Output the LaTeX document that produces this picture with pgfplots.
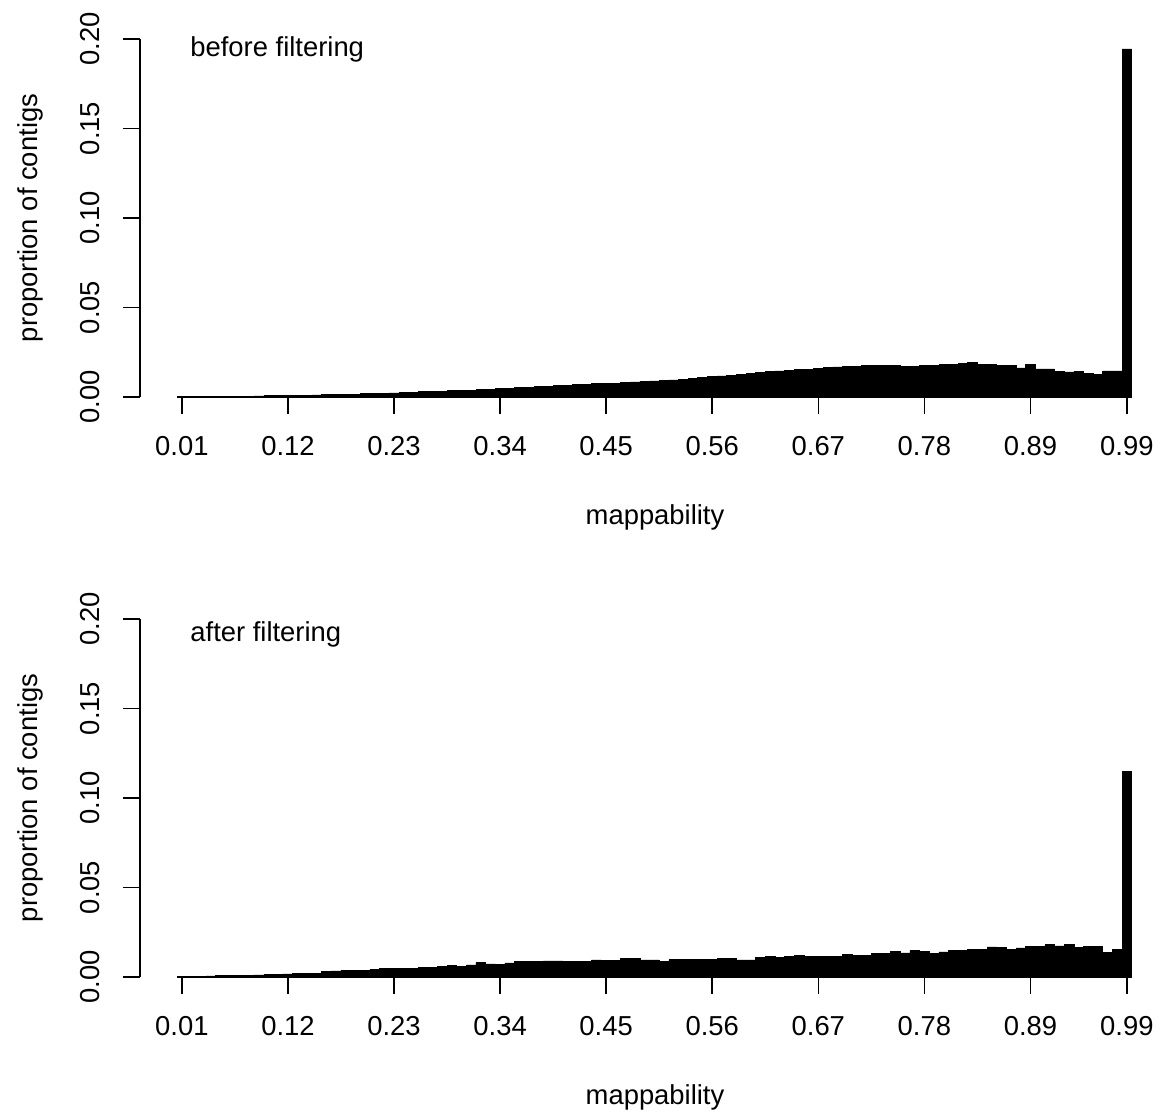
\documentclass[border=0pt]{standalone}
\usepackage{fontspec}
\setmainfont{Liberation Sans}
\usepackage{pgfplots}
\usepackage{pgfplotstable}
\pgfplotsset{compat=1.18}

\pgfplotstableread{
x y
1 0.0002
2 0.0002
3 0.0003
4 0.0003
5 0.0004
6 0.0004
7 0.0005
8 0.0005
9 0.0006
10 0.0007
11 0.0008
12 0.0009
13 0.0010
14 0.0011
15 0.0012
16 0.0013
17 0.0014
18 0.0015
19 0.0016
20 0.0018
21 0.0019
22 0.0021
23 0.0023
24 0.0025
25 0.0027
26 0.0029
27 0.0031
28 0.0033
29 0.0035
30 0.0037
31 0.0039
32 0.0041
33 0.0043
34 0.0046
35 0.0049
36 0.0052
37 0.0055
38 0.0058
39 0.0061
40 0.0064
41 0.0066
42 0.0069
43 0.0071
44 0.0074
45 0.0076
46 0.0078
47 0.0081
48 0.0084
49 0.0087
50 0.0090
51 0.0093
52 0.0096
53 0.0100
54 0.0105
55 0.0110
56 0.0114
57 0.0118
58 0.0122
59 0.0126
60 0.0130
61 0.0136
62 0.0141
63 0.0146
64 0.0150
65 0.0153
66 0.0156
67 0.0158
68 0.0165
69 0.0168
70 0.0170
71 0.0172
72 0.0176
73 0.0178
74 0.0178
75 0.0176
76 0.0170
77 0.0169
78 0.0176
79 0.0177
80 0.0180
81 0.0184
82 0.0186
83 0.0192
84 0.0182
85 0.0182
86 0.0178
87 0.0176
88 0.0162
89 0.0184
90 0.0157
91 0.0157
92 0.0144
93 0.0140
94 0.0142
95 0.0134
96 0.0128
97 0.0146
98 0.0146
99 0.1945
}\before

\pgfplotstableread{
x y
1 0.0003
2 0.0004
3 0.0005
4 0.0006
5 0.0007
6 0.0008
7 0.0009
8 0.0010
9 0.0012
10 0.0013
11 0.0015
12 0.0017
13 0.0019
14 0.0020
15 0.0022
16 0.0030
17 0.0034
18 0.0036
19 0.0037
20 0.0039
21 0.0043
22 0.0046
23 0.0047
24 0.0049
25 0.0050
26 0.0052
27 0.0054
28 0.0058
29 0.0067
30 0.0060
31 0.0068
32 0.0082
33 0.0073
34 0.0072
35 0.0079
36 0.0086
37 0.0087
38 0.0087
39 0.0090
40 0.0090
41 0.0087
42 0.0087
43 0.0089
44 0.0095
45 0.0094
46 0.0093
47 0.0102
48 0.0104
49 0.0096
50 0.0096
51 0.0088
52 0.0097
53 0.0097
54 0.0097
55 0.0099
56 0.0099
57 0.0103
58 0.0103
59 0.0096
60 0.0096
61 0.0110
62 0.0116
63 0.0109
64 0.0114
65 0.0120
66 0.0116
67 0.0116
68 0.0116
69 0.0116
70 0.0125
71 0.0122
72 0.0122
73 0.0133
74 0.0133
75 0.0142
76 0.0135
77 0.0148
78 0.0142
79 0.0131
80 0.0140
81 0.0150
82 0.0150
83 0.0153
84 0.0153
85 0.0168
86 0.0165
87 0.0155
88 0.0163
89 0.0172
90 0.0170
91 0.0180
92 0.0174
93 0.0182
94 0.0167
95 0.0172
96 0.0172
97 0.0139
98 0.0155
99 0.1150
}\after

\pgfplotsset{
  rpanel/.style={
    scale only axis,
    width=515pt, height=179pt,
    anchor=south west,
    xmin=-3.34, xmax=103.47,
    ymin=0, ymax=0.2,
    axis lines*=left,
    separate axis lines,
    x axis line style={draw=none},
    y axis line style={draw=black, line width=0.8pt},
    tick style={black, line width=0.8pt},
    tick align=outside,
    major tick length=8.5pt,
    xtick={1,12,23,34,45,56,67,78,89,99},
    xticklabels={0.01,0.12,0.23,0.34,0.45,0.56,0.67,0.78,0.89,0.99},
    ytick={0,0.05,0.1,0.15,0.2},
    yticklabels={0.00,0.05,0.10,0.15,0.20},
    xticklabel style={anchor=north, inner sep=0pt, yshift=-11pt},
    yticklabel style={rotate=90, anchor=south, inner sep=0pt, yshift=11.5pt},
    /pgf/number format/assume math mode=true,
    clip=false,
  }
}

\begin{document}
\fontsize{13.7}{16}\selectfont
\begin{tikzpicture}
\useasboundingbox (0pt,0pt) rectangle (581pt,556.5pt);

\begin{axis}[rpanel, at={(70pt,358pt)}]
  \addplot[ybar, bar width=1, fill=black, draw=black, line width=0.3pt] table[x=x,y=y] {\before};
  \draw[black, line width=0.8pt] (axis cs:1,0) -- (axis cs:99,0);
\end{axis}

\begin{axis}[rpanel, at={(70pt,68pt)}]
  \addplot[ybar, bar width=1, fill=black, draw=black, line width=0.3pt] table[x=x,y=y] {\after};
  \draw[black, line width=0.8pt] (axis cs:1,0) -- (axis cs:99,0);
\end{axis}

\node[anchor=base west, inner sep=0pt] at (95pt,528pt) {before filtering};
\node[anchor=base west, inner sep=0pt] at (95pt,235.5pt) {after filtering};
\node[anchor=center, inner sep=0pt] at (327.5pt,298pt) {mappability};
\node[anchor=center, inner sep=0pt] at (327.5pt,8pt) {mappability};
\node[rotate=90, anchor=center, inner sep=0pt] at (15pt,447.5pt) {proportion of contigs};
\node[rotate=90, anchor=center, inner sep=0pt] at (15pt,157.5pt) {proportion of contigs};
\end{tikzpicture}
\end{document}
